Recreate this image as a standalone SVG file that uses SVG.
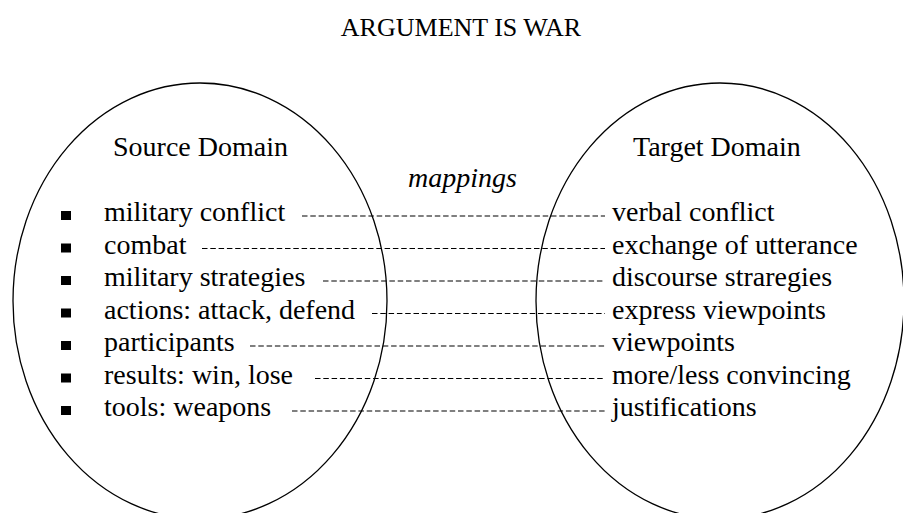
<svg xmlns="http://www.w3.org/2000/svg" width="903" height="513" viewBox="0 0 903 513">
<rect width="903" height="513" fill="#fff"/>
<g font-family="Liberation Serif" fill="#000">
<text x="461" y="36" font-size="26" text-anchor="middle">ARGUMENT IS WAR</text>
<g id="source-domain" font-size="28">
<ellipse cx="200" cy="301" rx="187" ry="218" fill="none" stroke="#000" stroke-width="1.3"/>
<text x="113" y="156">Source Domain</text>
<g id="bullets">
<rect x="61" y="211" width="10" height="9"/>
<rect x="61" y="243.5" width="10" height="9"/>
<rect x="61" y="276" width="10" height="9"/>
<rect x="61" y="308.5" width="10" height="9"/>
<rect x="61" y="341" width="10" height="9"/>
<rect x="61" y="373.5" width="10" height="9"/>
<rect x="61" y="406" width="10" height="9"/>
</g>
<text x="104" y="221">military conflict</text>
<text x="104" y="253.5">combat</text>
<text x="104" y="286">military strategies</text>
<text x="104" y="318.5">actions: attack, defend</text>
<text x="104" y="351">participants</text>
<text x="104" y="383.5">results: win, lose</text>
<text x="104" y="416">tools: weapons</text>
</g>
<g id="target-domain" font-size="28">
<ellipse cx="720" cy="301" rx="184" ry="218" fill="none" stroke="#000" stroke-width="1.3"/>
<text x="633" y="156">Target Domain</text>
<text x="612" y="221">verbal conflict</text>
<text x="612" y="253.5">exchange of utterance</text>
<text x="612" y="286">discourse straregies</text>
<text x="612" y="318.5">express viewpoints</text>
<text x="612" y="351">viewpoints</text>
<text x="612" y="383.5">more/less convincing</text>
<text x="612" y="416">justifications</text>
</g>
<g id="mappings">
<text x="408" y="187" font-size="28" font-style="italic">mappings</text>
<g stroke="#000" stroke-width="1.1" stroke-dasharray="5.5 2.8" fill="none">
<line x1="302" y1="216" x2="605" y2="216"/>
<line x1="202" y1="248.5" x2="605" y2="248.5"/>
<line x1="323" y1="281" x2="605" y2="281"/>
<line x1="372" y1="313.5" x2="605" y2="313.5"/>
<line x1="250" y1="346" x2="605" y2="346"/>
<line x1="315" y1="378.5" x2="605" y2="378.5"/>
<line x1="292" y1="411" x2="605" y2="411"/>
</g>
</g>
</g>
</svg>
